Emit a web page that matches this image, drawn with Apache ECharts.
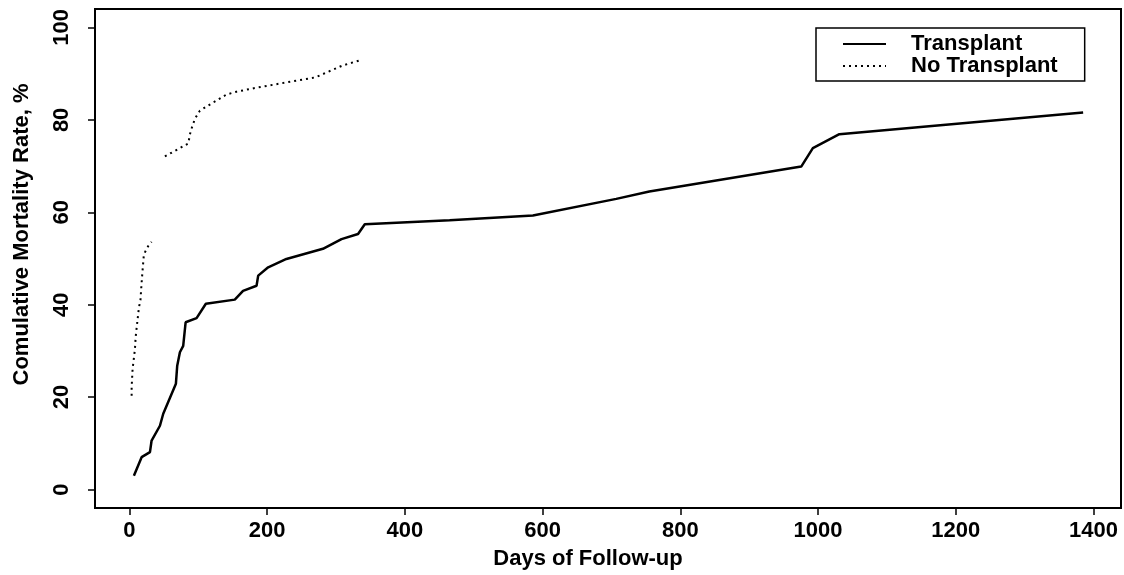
<!DOCTYPE html>
<html>
<head>
<meta charset="utf-8">
<script src="https://cdn.jsdelivr.net/npm/echarts@6/dist/echarts.min.js"></script>
<style>
html,body{margin:0;padding:0;background:#fff;}
#chart{width:1124px;height:575px;}
</style>
</head>
<body>
<div id="chart"></div>
<script>
// ---- data ----
const transplantDays = [6.5, 17.7, 29.8, 32.2, 44.3, 49.1, 67.5, 69.4, 73.3, 78.1, 81.6, 97.5, 111, 153, 165, 184.6, 187, 201.5, 228, 281, 308, 332, 341.8, 465, 586, 707, 755, 975.6, 992.5, 1031, 1385];
const transplantRate = [3.0, 7.0, 8.1, 10.6, 13.8, 16.4, 22.9, 26.8, 29.7, 31.1, 36.2, 37.1, 40.2, 41.1, 43.0, 44.1, 46.3, 48.1, 49.9, 52.1, 54.2, 55.3, 57.4, 58.3, 59.3, 62.9, 64.5, 69.9, 73.9, 76.9, 81.6];

const noTxDays = [3.2, 3.2, 4.6, 8, 9, 10.4, 13.8, 16, 17.7, 19, 21, 27.3, 32.2, 40, 51.5, 58.8, 72.3, 85.4, 88.8, 95, 102.3, 114.4, 128.9, 141, 155.6, 182, 208.7, 242.7, 270, 290, 310, 337];
const noTxRate = [20.3, 22.1, 26.1, 30.4, 32.9, 34.9, 39.4, 41.0, 44.8, 47.3, 50.9, 52.7, 53.6, null, 72.1, 72.7, 73.8, 74.9, 77.5, 80.2, 82.0, 83.1, 84.4, 85.5, 86.1, 86.9, 87.6, 88.5, 89.2, 90.5, 91.8, 93.0];

const xTicks = [0, 200, 400, 600, 800, 1000, 1200, 1400];
const yTicks = [0, 20, 40, 60, 80, 100];
const seriesNames = ['Transplant', 'No Transplant'];
const xTitle = 'Days of Follow-up';
const yTitle = 'Comulative Mortality Rate, %';

const zip = (a, b) => a.map((v, i) => [v, b[i]]);

const FONT = '"Liberation Sans", Arial, sans-serif';
const chart = echarts.init(document.getElementById('chart'));
chart.setOption({
  animation: false,
  backgroundColor: '#fff',
  grid: {left: 95, right: 3, top: 9, bottom: 66, show: true, borderColor: '#000', borderWidth: 2, backgroundColor: 'transparent'},
  legend: {
    orient: 'vertical',
    left: 816, top: 28,
    itemWidth: 43, itemHeight: 14, itemGap: 0,
    padding: [5, 27, 4, 26],
    borderColor: '#000', borderWidth: 1.5,
    itemStyle: {opacity: 0},
    textStyle: {fontFamily: FONT, fontSize: 22, fontWeight: 'bold', color: '#000', lineHeight: 19, padding: [0, 0, 0, 20]},
    data: seriesNames
  },
  xAxis: {
    type: 'value', min: -50, max: 1440,
    name: xTitle, nameLocation: 'middle', nameGap: 40,
    nameTextStyle: {fontFamily: FONT, fontSize: 22, fontWeight: 'bold', color: '#000', padding: [0, 40, 0, 0]},
    axisLine: {show: true, onZero: false, lineStyle: {color: '#000', width: 2}},
    axisTick: {show: true, length: 7, lineStyle: {color: '#000', width: 1.5}, customValues: xTicks},
    axisLabel: {fontFamily: FONT, fontSize: 22, fontWeight: 'bold', color: '#000', margin: 12, customValues: xTicks, formatter: v => String(v)},
    splitLine: {show: false}
  },
  yAxis: {
    type: 'value', min: -4, max: 104,
    name: yTitle, nameLocation: 'middle', nameGap: 62,
    nameTextStyle: {fontFamily: FONT, fontSize: 22, fontWeight: 'bold', color: '#000', padding: [0, 0, 0, 48]},
    axisLine: {show: true, onZero: false, lineStyle: {color: '#000', width: 2}},
    axisTick: {show: true, length: 7, lineStyle: {color: '#000', width: 1.5}, customValues: yTicks},
    axisLabel: {fontFamily: FONT, fontSize: 22, fontWeight: 'bold', color: '#000', margin: 22, rotate: 90, customValues: yTicks, formatter: v => String(v)},
    splitLine: {show: false}
  },
  series: [
    {
      name: seriesNames[0], type: 'line', symbol: 'none', smooth: false,
      lineStyle: {color: '#000', width: 2.5},
      itemStyle: {color: '#000'},
      data: zip(transplantDays, transplantRate)
    },
    {
      name: seriesNames[1], type: 'line', symbol: 'none', smooth: false, connectNulls: false,
      lineStyle: {color: '#000', width: 2, type: [2, 4]},
      itemStyle: {color: '#000'},
      data: zip(noTxDays, noTxRate)
    }
  ]
});
</script>
</body>
</html>
